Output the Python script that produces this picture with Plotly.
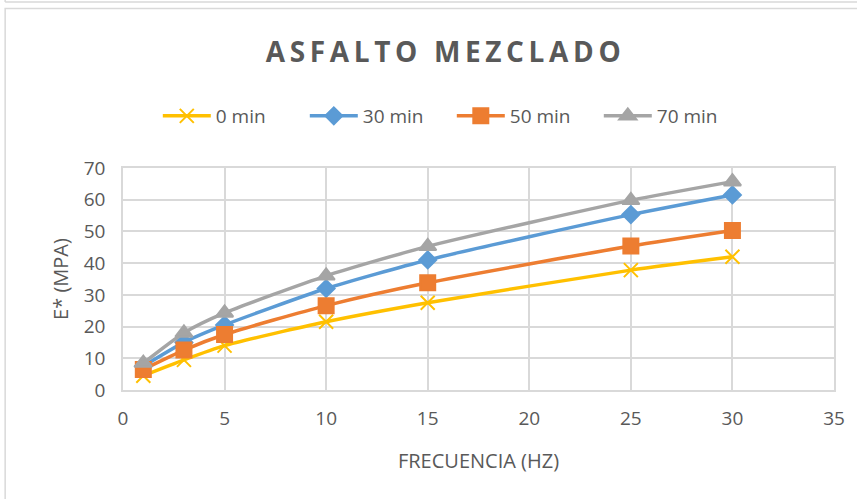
import plotly.graph_objects as go

# Frequency sweep (Hz) and dynamic modulus E* (MPa) per ageing time
frecuencia = [1, 3, 5, 10, 15, 25, 30]
e_0min = [4.5, 9.5, 14.0, 21.5, 27.5, 37.8, 42.0]
e_30min = [7.5, 15.0, 20.5, 32.0, 41.0, 55.3, 61.5]
e_50min = [6.5, 12.6, 17.5, 26.6, 33.8, 45.4, 50.3]
e_70min = [8.5, 18.0, 24.3, 36.0, 45.3, 59.8, 65.7]

series = [
    ("0 min", e_0min, "#FFC000", "x-thin-open", 14),
    ("30 min", e_30min, "#5B9BD5", "diamond", 13),
    ("50 min", e_50min, "#ED7D31", "square", 15),
    ("70 min", e_70min, "#A5A5A5", "triangle-up", 15),
]

W, H = 857, 499
L, R, T, B = 123, 19, 168, 109

fig = go.Figure()
for name, vals, color, symbol, size in series:
    fig.add_trace(go.Scatter(
        x=frecuencia, y=vals, name=name,
        mode="lines+markers",
        line=dict(color=color, width=3.5, shape="spline", smoothing=0.6),
        marker=dict(symbol=symbol, size=size, color=color,
                    line=dict(color=color, width=2)),
    ))

pw, ph = W - L - R, H - T - B


def px_x(p):
    return (p - L) / pw


def px_y(p):
    return (H - B - p) / ph


frame = "#D9D9D9"
shapes = [
    dict(type="rect", xref="paper", yref="paper",
         x0=px_x(4.5), x1=px_x(W + 10), y0=px_y(8.5), y1=px_y(H + 10),
         line=dict(color=frame, width=1.5), layer="below"),
    dict(type="line", xref="paper", yref="paper",
         x0=px_x(4.5), x1=px_x(W + 10), y0=px_y(2), y1=px_y(2),
         line=dict(color=frame, width=1.5)),
    dict(type="line", xref="paper", yref="paper",
         x0=px_x(4.5), x1=px_x(4.5), y0=px_y(-5), y1=px_y(2),
         line=dict(color=frame, width=1.5)),
]

font_family = "Open Sans, Liberation Sans, sans-serif"
titulo = "\u2009".join("ASFALTO MEZCLADO")

fig.update_layout(
    width=W, height=H,
    margin=dict(l=L, r=R, t=T, b=B),
    paper_bgcolor="white", plot_bgcolor="white",
    font=dict(family=font_family, color="#595959", size=16),
    title=dict(
        text=f"<b>{titulo}</b>",
        x=px_x(445), xref="paper", xanchor="center",
        y=1 - 52 / H, yanchor="middle",
        font=dict(size=28, color="#595959", family=font_family),
    ),
    legend=dict(
        orientation="h", x=px_x(158), y=px_y(116), xanchor="left", yanchor="middle",
        font=dict(size=19, color="#595959"), itemwidth=48,
        entrywidth=84, entrywidthmode="pixels",
        tracegroupgap=0, bgcolor="rgba(0,0,0,0)",
    ),
    shapes=shapes,
    showlegend=True,
)

fig.update_xaxes(
    range=[0, 35], dtick=5, tick0=0,
    showgrid=True, gridcolor="#D9D9D9", gridwidth=1.5,
    showline=True, linecolor="#D9D9D9", linewidth=1.5, mirror=True,
    zeroline=False, ticks="", ticklabelstandoff=10,
    tickfont=dict(size=19, color="#595959"),
    title=dict(text="FRECUENCIA (HZ)", font=dict(size=20, color="#595959"), standoff=24),
)
fig.update_yaxes(
    range=[0, 70], dtick=10, tick0=0,
    showgrid=True, gridcolor="#D9D9D9", gridwidth=1.5,
    showline=True, linecolor="#D9D9D9", linewidth=1.5, mirror=True,
    zeroline=False, ticks="", ticklabelstandoff=12,
    tickfont=dict(size=19, color="#595959"),
    title=dict(text="E* (MPA)", font=dict(size=20, color="#595959"), standoff=10),
)

fig.write_html("out.html")
